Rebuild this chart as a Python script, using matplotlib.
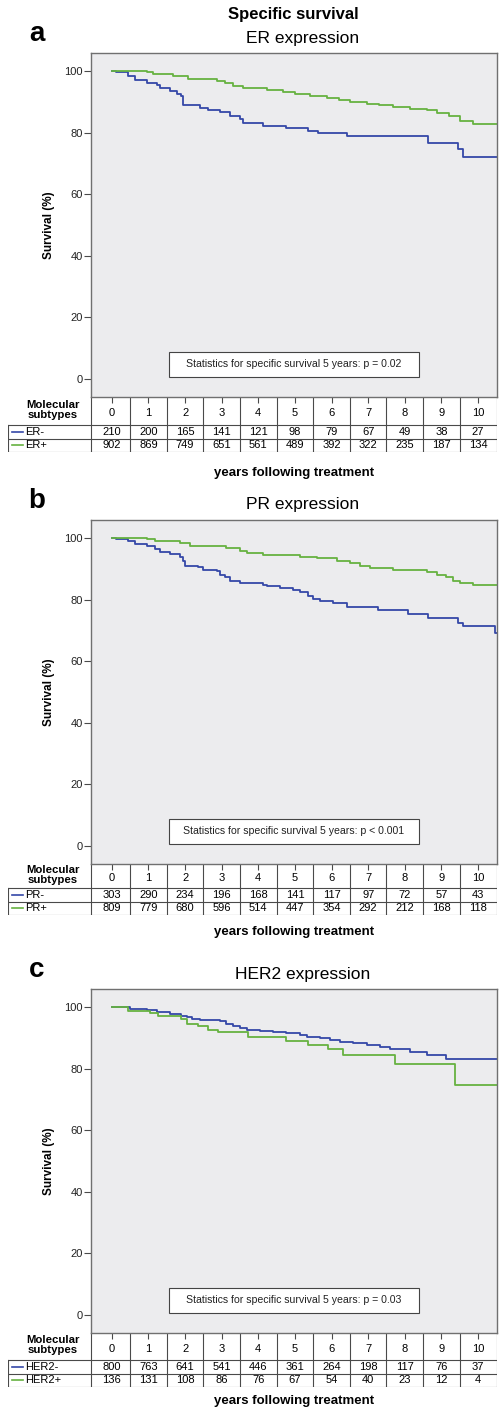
import matplotlib
matplotlib.use("Agg")
import matplotlib.pyplot as plt
from matplotlib.patches import Rectangle
import numpy as np

plt.rcParams['font.family'] = ['Liberation Sans', 'DejaVu Sans']

# --- data ---
years = list(range(11))

er_neg_t = [0, 0.12, 0.45, 0.63, 0.95, 1.22, 1.31, 1.58, 1.77, 1.90, 1.95, 2.40, 2.63, 2.95, 3.22, 3.50,
            3.59, 4.13, 4.77, 5.36, 5.64, 6.41, 8.64, 9.46, 9.60]
er_neg_s = [100, 99.6, 98.2, 96.9, 96.2, 95.3, 94.4, 93.6, 92.5, 91.7, 89.0, 88.1, 87.3, 86.5, 85.4, 84.3,
            83.0, 82.2, 81.6, 80.6, 79.8, 78.9, 76.7, 74.7, 72.2]
er_pos_t = [0, 0.95, 1.13, 1.67, 2.08, 2.86, 3.10, 3.30, 3.59, 4.23, 4.68, 5.00, 5.41, 5.87, 6.20, 6.50,
            6.96, 7.30, 7.69, 8.14, 8.60, 8.87, 9.20, 9.51, 9.87]
er_pos_s = [100, 99.5, 99.0, 98.3, 97.3, 96.8, 96.0, 95.2, 94.6, 93.9, 93.3, 92.6, 92.0, 91.2, 90.6, 90.0,
            89.2, 88.8, 88.4, 87.7, 87.2, 86.3, 85.2, 83.9, 82.8]

pr_neg_t = [0, 0.12, 0.45, 0.63, 0.95, 1.17, 1.31, 1.58, 1.86, 1.93, 1.99, 2.36, 2.50, 2.86, 2.95, 3.09,
            3.22, 3.50, 4.13, 4.23, 4.59, 4.95, 5.14, 5.36, 5.50, 5.68, 6.05, 6.41, 7.28, 8.10, 8.64,
            9.46, 9.60, 10.46]
pr_neg_s = [100, 99.7, 98.9, 98.1, 97.3, 96.3, 95.5, 94.7, 93.8, 92.5, 90.9, 90.4, 89.6, 89.1, 88.0, 87.2,
            86.1, 85.2, 84.8, 84.3, 83.7, 83.1, 82.4, 81.3, 80.2, 79.5, 78.8, 77.5, 76.5, 75.2, 74.1,
            72.4, 71.3, 69.2]
pr_pos_t = [0, 0.95, 1.17, 1.86, 2.13, 3.13, 3.50, 3.68, 4.13, 5.14, 5.59, 6.14, 6.50, 6.78, 7.05, 7.69,
            8.60, 8.87, 9.14, 9.33, 9.51, 9.87]
pr_pos_s = [100, 99.7, 98.9, 98.2, 97.3, 96.8, 95.9, 95.0, 94.4, 93.8, 93.4, 92.5, 91.7, 90.9, 90.2, 89.5,
            88.8, 88.0, 87.2, 86.1, 85.3, 84.8]

her2_neg_t = [0, 0.22, 0.49, 0.95, 1.22, 1.58, 1.90, 2.04, 2.18, 2.40, 2.95, 3.13, 3.31, 3.50, 3.68, 4.04,
              4.41, 4.77, 5.14, 5.32, 5.68, 5.96, 6.23, 6.59, 6.96, 7.32, 7.60, 8.14, 8.60, 9.14]
her2_neg_s = [100, 99.8, 99.4, 98.9, 98.4, 97.8, 97.2, 96.8, 96.2, 95.9, 95.4, 94.6, 93.9, 93.3, 92.6, 92.2,
              91.8, 91.4, 90.8, 90.3, 89.8, 89.2, 88.6, 88.2, 87.6, 87.0, 86.4, 85.4, 84.3, 83.1]
her2_pos_t = [0, 0.45, 1.04, 1.27, 1.90, 2.04, 2.36, 2.63, 2.90, 3.72, 4.77, 5.36, 5.91, 6.32, 7.73, 9.37]
her2_pos_s = [100, 98.7, 98.1, 97.2, 96.2, 94.4, 93.7, 92.6, 91.9, 90.3, 89.0, 87.6, 86.2, 84.3, 81.4, 74.6]

er_neg_risk = [210, 200, 165, 141, 121, 98, 79, 67, 49, 38, 27]
er_pos_risk = [902, 869, 749, 651, 561, 489, 392, 322, 235, 187, 134]
pr_neg_risk = [303, 290, 234, 196, 168, 141, 117, 97, 72, 57, 43]
pr_pos_risk = [809, 779, 680, 596, 514, 447, 354, 292, 212, 168, 118]
her2_neg_risk = [800, 763, 641, 541, 446, 361, 264, 198, 117, 76, 37]
her2_pos_risk = [136, 131, 108, 86, 76, 67, 54, 40, 23, 12, 4]

panel_letters = ["a", "b", "c"]
panel_titles = ["ER expression", "PR expression", "HER2 expression"]
group_labels = [("ER-", "ER+"), ("PR-", "PR+"), ("HER2-", "HER2+")]
p_texts = ["p = 0.02", "p < 0.001", "p = 0.03"]
curves = [((er_neg_t, er_neg_s), (er_pos_t, er_pos_s)),
          ((pr_neg_t, pr_neg_s), (pr_pos_t, pr_pos_s)),
          ((her2_neg_t, her2_neg_s), (her2_pos_t, her2_pos_s))]
risks = [(er_neg_risk, er_pos_risk), (pr_neg_risk, pr_pos_risk), (her2_neg_risk, her2_pos_risk)]

BLUE = "#3548a8"
GREEN = "#66b241"
LINE_C = "#4a4a4a"

# --- layout (pixels) ---
W, H = 500, 1408
AX_L, AX_R, TAB_L = 91, 497, 8
AX_H = 344
XLIM = (-0.57, 10.52)
YLIM = (-5.8, 105.8)
tops = [53, 520, 989]
header_hs = [28, 24, 27]
ROW_H = 13.5
xlabel_gaps = [21, 17, 14]
FS = 8


def fr(x0, y0, x1, y1):
    return [x0 / W, 1 - y1 / H, (x1 - x0) / W, (y1 - y0) / H]


fig = plt.figure(figsize=(W / 100, H / 100), dpi=100)
fig.text(293 / W, 1 - 15 / H, "Specific survival", ha="center", va="center",
         fontsize=12, fontweight="bold")

ppy = (AX_R - AX_L) / (XLIM[1] - XLIM[0])
tab_left = XLIM[0] - (AX_L - TAB_L) / ppy

for i in range(3):
    top = tops[i]
    bot = top + AX_H
    hh = header_hs[i]
    tab_h = hh + 2 * ROW_H

    fig.text(37 / W, 1 - (top - 19) / H, panel_letters[i], ha="center", va="center",
             fontsize=20, fontweight="bold")
    fig.text(303 / W, 1 - (top - 15) / H, panel_titles[i], ha="center", va="center",
             fontsize=12.5)

    # survival plot
    ax = fig.add_axes(fr(AX_L, top, AX_R, bot))
    ax.set_zorder(2)
    ax.set_facecolor("#ececee")
    for (t, s), c in zip(curves[i], [BLUE, GREEN]):
        tt = np.append(t, XLIM[1])
        ss = np.append(s, s[-1])
        ax.step(tt, ss, where="post", color=c, lw=1.3, clip_on=True)
    ax.set_xlim(*XLIM)
    ax.set_ylim(*YLIM)
    ax.set_yticks([0, 20, 40, 60, 80, 100])
    ax.set_xticks(years)
    ax.tick_params(axis="x", direction="out", length=4, width=0.8, color=LINE_C,
                   labelbottom=False)
    ax.tick_params(axis="y", direction="out", length=5, width=0.8, color=LINE_C,
                   labelsize=FS, labelcolor="#222222", pad=1)
    for sp in ax.spines.values():
        sp.set_color("#707070")
        sp.set_linewidth(1.0)
    ax.set_ylabel("Survival (%)", fontsize=8.5, fontweight="bold")
    ax.yaxis.set_label_coords(-(AX_L - 55) / (AX_R - AX_L), 0.5)

    # statistics box
    bw, bh = 250 / (AX_R - AX_L), 25 / AX_H
    by = 33 / AX_H
    ax.add_patch(Rectangle((0.5 - bw / 2, by - bh / 2), bw, bh, transform=ax.transAxes,
                           facecolor="white", edgecolor="#444444", lw=0.8, zorder=3))
    ax.text(0.5, by, "Statistics for specific survival 5 years: " + p_texts[i],
            transform=ax.transAxes, ha="center", va="center", fontsize=7.6,
            color="#222222", zorder=4)

    # number-at-risk table
    tab = fig.add_axes(fr(TAB_L, bot, AX_R, bot + tab_h))
    tab.set_zorder(1)
    tab.set_facecolor("none")
    tab.set_xlim(tab_left, XLIM[1])
    tab.set_ylim(tab_h, 0)
    tab.axis("off")
    lk = dict(color=LINE_C, lw=0.8)
    for x in [XLIM[0]] + [y + 0.5 for y in years[:-1]] + [XLIM[1]]:
        tab.plot([x, x], [0, tab_h], **lk)
    for yy in [hh, hh + ROW_H, tab_h]:
        tab.plot([tab_left, XLIM[1]], [yy, yy], **lk)
    tab.plot([tab_left, tab_left], [hh, tab_h], **lk)

    tab.text((tab_left + XLIM[0]) / 2 + 0.1, hh * 0.45, "Molecular\nsubtypes", ha="center",
             va="center", fontsize=8.2, fontweight="bold", linespacing=1.0)
    for y in years:
        tab.text(y, hh * 0.58, str(y), ha="center", va="center", fontsize=FS)

    for r, (lab, c, vals) in enumerate(zip(group_labels[i], [BLUE, GREEN], risks[i])):
        yc = hh + ROW_H * (r + 0.5)
        tab.plot([tab_left + 4 / ppy, tab_left + 15 / ppy], [yc, yc], color=c, lw=1.2)
        tab.text(tab_left + 17 / ppy, yc, lab, ha="left", va="center", fontsize=FS)
        for y, v in zip(years, vals):
            tab.text(y, yc, str(v), ha="center", va="center", fontsize=FS)

    fig.text((AX_L + AX_R) / 2 / W, 1 - (bot + tab_h + xlabel_gaps[i]) / H,
             "years following treatment", ha="center", va="center", fontsize=9.5,
             fontweight="bold")

fig.savefig("out.png", dpi=100)
